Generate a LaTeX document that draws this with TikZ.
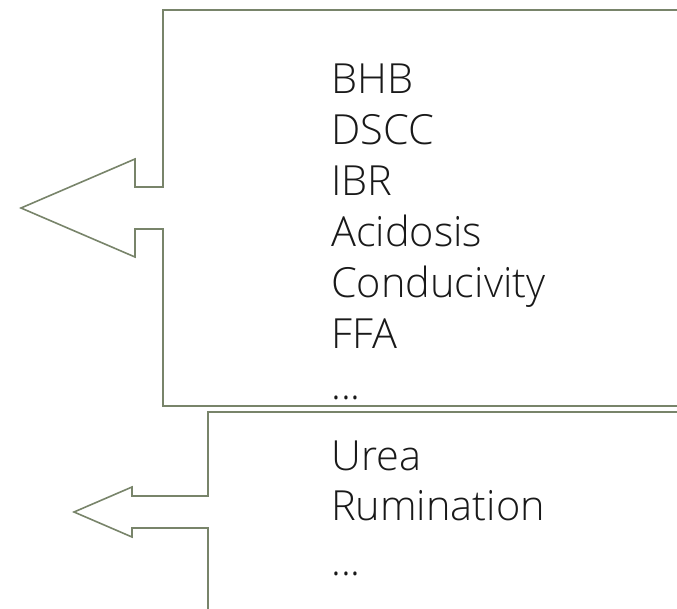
\documentclass[tikz,border=0pt]{standalone}
\usepackage{fontspec}
\setmainfont{Open Sans Light}
\definecolor{calloutgreen}{RGB}{120,132,106}

\begin{document}
\begin{tikzpicture}[x=1pt,y=-1pt]
\tikzstyle{every node}+=[inner sep=0pt]
\tikzstyle{item}=[anchor=base west, font=\fontsize{41.5}{51}\selectfont, text=black!90]
\tikzstyle{callout}=[draw=calloutgreen, line width=1.6pt, line join=miter]
\useasboundingbox (0,0) rectangle (677,608);
\clip (0,0) rectangle (677,608);
% upper callout
\draw [callout] (163,10) -- (700,10) -- (700,406) -- (163,406) -- (163,229) -- (135,229)
  -- (135,257) -- (21,208) -- (135,159) -- (135,187) -- (163,187) -- cycle;
\draw (331,93) node [item] (bhb) {BHB};
\draw (331,144) node [item] (dscc) {DSCC};
\draw (331,195) node [item] (ibr) {IBR};
\draw (331,246) node [item] (acid) {Acidosis};
\draw (331,297) node [item] (cond) {Conducivity};
\draw (331,348) node [item] (ffa) {FFA};
\draw (331,399) node [item] (moreA) {...};
% lower callout
\draw [callout] (208,620) -- (208,528) -- (132,528) -- (132,537) -- (74,512) -- (132,487)
  -- (132,496) -- (208,496) -- (208,412) -- (700,412);
\draw (331,470) node [item] (urea) {Urea};
\draw (331,520) node [item] (rum) {Rumination};
\draw (331,575) node [item] (moreB) {...};
\end{tikzpicture}
\end{document}
